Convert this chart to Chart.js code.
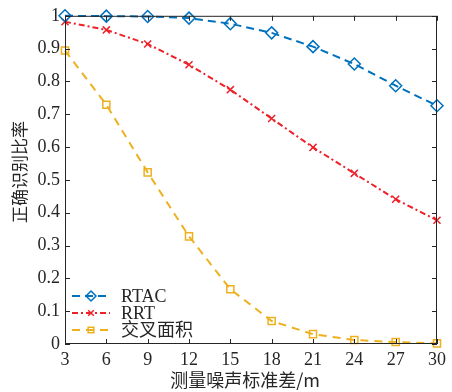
<!DOCTYPE html>
<html>
<head>
<meta charset="utf-8">
<script src="https://cdn.jsdelivr.net/npm/chart.js@4"></script>
<style>
  body { margin: 0; background: #fff; }
  #wrap { width: 452px; height: 392px; }
</style>
</head>
<body>
<div id="wrap"><canvas id="graph"></canvas></div>
<script>
// data
const noiseStd = [3, 6, 9, 12, 15, 18, 21, 24, 27, 30];
const rtacRate = [1.0, 0.999, 0.998, 0.993, 0.976, 0.948, 0.906, 0.853, 0.787, 0.726];
const rrtRate = [0.982, 0.957, 0.914, 0.851, 0.775, 0.687, 0.599, 0.52, 0.441, 0.377];
const areaRate = [0.894, 0.729, 0.523, 0.328, 0.167, 0.07, 0.03, 0.012, 0.006, 0.002];
const seriesNames = ['RTAC', 'RRT', '交叉面积'];
const xTitle = '测量噪声标准差/m';
const yTitle = '正确识别比率';

const axisColor = '#262626';
const fontFam = '"Liberation Serif", "Noto Sans CJK SC", serif';

function toPoints(ys) {
    return noiseStd.map((x, i) => ({ x: x, y: ys[i] }));
}

const styles = [
    { color: '#0072BD', dash: [8, 5], point: 'rectRot', radius: 6 },
    { color: '#EE2028', dash: [6, 3, 2, 3], point: 'crossRot', radius: 5 },
    { color: '#EDB120', dash: [8, 6], point: 'rect', radius: 5 }
];
const allData = [rtacRate, rrtRate, areaRate];

// box, inward ticks, titles and legend
const framePlugin = {
    id: 'frame',
    afterDatasetsDraw(chart) {
        const ctx = chart.ctx;
        const a = chart.chartArea;
        const xs = chart.scales.x, ys = chart.scales.y;
        ctx.save();
        ctx.strokeStyle = axisColor;
        ctx.lineWidth = 1;
        ctx.setLineDash([]);
        ctx.strokeRect(a.left + 0.5, a.top + 0.5, a.right - a.left - 1, a.bottom - a.top - 1);
        const tl = 5;
        ctx.beginPath();
        xs.ticks.forEach(t => {
            const px = Math.round(xs.getPixelForValue(t.value)) + 0.5;
            ctx.moveTo(px, a.bottom); ctx.lineTo(px, a.bottom - tl);
            ctx.moveTo(px, a.top); ctx.lineTo(px, a.top + tl);
        });
        ys.ticks.forEach(t => {
            const py = Math.round(ys.getPixelForValue(t.value)) + 0.5;
            ctx.moveTo(a.left, py); ctx.lineTo(a.left + tl, py);
            ctx.moveTo(a.right, py); ctx.lineTo(a.right - tl, py);
        });
        ctx.stroke();

        // axis titles
        ctx.fillStyle = axisColor;
        ctx.textAlign = 'center';
        ctx.textBaseline = 'middle';
        ctx.font = '18px "Noto Sans CJK SC", sans-serif';
        ctx.fillText(xTitle, 245, 380);
        ctx.save();
        ctx.translate(20, 172);
        ctx.rotate(-Math.PI / 2);
        ctx.font = '17px "Noto Sans CJK SC", sans-serif';
        ctx.fillText(yTitle, 0, 0);
        ctx.restore();

        // legend
        chart.data.datasets.forEach((ds, i) => {
            const y = 296 + i * 17;
            ctx.strokeStyle = ds.borderColor;
            ctx.lineWidth = 2;
            ctx.setLineDash(ds.borderDash);
            ctx.beginPath();
            ctx.moveTo(72, y); ctx.lineTo(110, y);
            ctx.stroke();
            ctx.setLineDash([]);
            ctx.fillStyle = 'rgba(0,0,0,0)';
            ctx.lineWidth = 1.5;
            Chart.helpers.drawPoint(ctx, {
                pointStyle: ds.pointStyle, radius: ds.pointRadius - 1,
                borderWidth: 1.5, rotation: 0
            }, 91, y);
            ctx.fillStyle = axisColor;
            ctx.font = '18px ' + fontFam;
            ctx.textAlign = 'left';
            ctx.fillText(ds.label, 121, y + 1);
        });
        ctx.restore();
    }
};

const ctx = document.getElementById('graph').getContext('2d');
const chart = new Chart(ctx, {
    type: 'line',
    data: {
        datasets: seriesNames.map((name, i) => ({
            label: name,
            data: toPoints(allData[i]),
            borderColor: styles[i].color,
            backgroundColor: 'rgba(0,0,0,0)',
            borderWidth: 2,
            borderDash: styles[i].dash,
            pointStyle: styles[i].point,
            pointRadius: styles[i].radius,
            pointBorderWidth: 1.5,
            pointBorderColor: styles[i].color,
            pointBackgroundColor: 'rgba(0,0,0,0)',
            tension: 0,
            clip: false
        }))
    },
    options: {
        responsive: true,
        maintainAspectRatio: false,
        animation: false,
        layout: { padding: { top: 15, right: 15, left: 0, bottom: 0 } },
        plugins: {
            legend: { display: false },
            tooltip: { enabled: false }
        },
        scales: {
            x: {
                type: 'linear',
                min: 3, max: 30,
                grid: { display: false, drawTicks: false },
                border: { display: false },
                ticks: {
                    stepSize: 3, padding: 5, color: axisColor,
                    font: { family: fontFam, size: 18 }
                },
                afterFit(scale) { scale.height = 48; }
            },
            y: {
                min: 0, max: 1,
                grid: { display: false, drawTicks: false },
                border: { display: false },
                ticks: {
                    stepSize: 0.1, padding: 5, color: axisColor,
                    font: { family: fontFam, size: 18 },
                    callback: v => String(Math.round(v * 10) / 10)
                },
                afterFit(scale) { scale.width = 65; }
            }
        }
    },
    plugins: [framePlugin]
});
</script>
</body>
</html>
